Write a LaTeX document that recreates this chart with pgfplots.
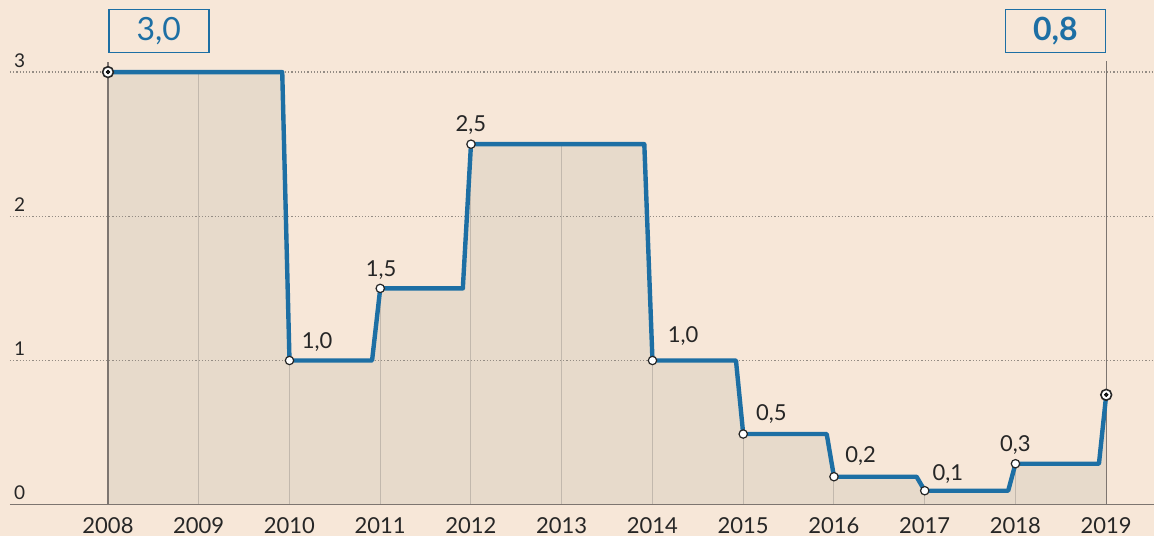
\documentclass[border=0pt]{standalone}
\usepackage{pgfplots}
\pgfplotsset{compat=1.18}
\usepackage{fontspec}
\setmainfont{Lato}
\definecolor{bg}{HTML}{F7E7D8}
\definecolor{area}{HTML}{E7DACB}
\definecolor{ftblue}{HTML}{1D6FA4}
\definecolor{gridc}{HTML}{C2B8AD}
\definecolor{axisgray}{HTML}{7D7570}
\definecolor{dotc}{HTML}{948C84}
\begin{document}
\begin{tikzpicture}
\fill[bg] (-5pt,-15.5pt) rectangle (572.5pt,252.5pt);
\begin{axis}[
  at={(0,0)}, anchor=south west,
  scale only axis, width=572.5pt, height=252.5pt,
  xmin=2006.92, xmax=2019.53, ymin=0, ymax=3.5,
  clip=false,
  axis x line*=bottom, axis y line=none,
  x axis line style={draw=axisgray, line width=0.7pt, -},
  xtick={2008,2009,2010,2011,2012,2013,2014,2015,2016,2017,2018,2019},
  xticklabels={2008,2009,2010,2011,2012,2013,2014,2015,2016,2017,2018,2019},
  major tick length=0pt,
  xticklabel style={font=\fontsize{11}{13}\selectfont, text=black!85, yshift=-3pt},
]
% area under the rate
\addplot[fill=area, draw=none] coordinates {
  (2008,3) (2009.92,3) (2010,1) (2010.91,1) (2011,1.5) (2011.91,1.5)
  (2012,2.5) (2013.91,2.5) (2014,1) (2014.92,1) (2015,0.49) (2015.92,0.49)
  (2016,0.194) (2016.91,0.194) (2017,0.097) (2017.92,0.097) (2018,0.284)
  (2018.92,0.284) (2019,0.762)} \closedcycle;
% year lines inside the area
\addplot[ycomb, draw=gridc, line width=0.5pt] coordinates {
  (2009,3) (2010,1) (2011,1.5) (2012,2.5) (2013,2.5) (2014,1)
  (2015,0.49) (2016,0.194) (2017,0.097) (2018,0.284)};
\addplot[ycomb, draw=axisgray, line width=0.6pt] coordinates {(2008,3.07) (2019,3.08)};
% dotted horizontal guides
\addplot[draw=dotc, densely dotted, line width=0.6pt, forget plot] coordinates {(2006.92,1) (2019.53,1)};
\addplot[draw=dotc, densely dotted, line width=0.6pt, forget plot] coordinates {(2006.92,2) (2019.53,2)};
\addplot[draw=dotc, densely dotted, line width=0.6pt, forget plot] coordinates {(2006.92,3) (2019.53,3)};
\draw[axisgray, line width=0.7pt] (axis cs:2006.95,0) -- (axis cs:2019.53,0);
% rate line
\addplot[draw=ftblue, line width=2.2pt, line join=round] coordinates {
  (2008,3) (2009.92,3) (2010,1) (2010.91,1) (2011,1.5) (2011.91,1.5)
  (2012,2.5) (2013.91,2.5) (2014,1) (2014.92,1) (2015,0.49) (2015.92,0.49)
  (2016,0.194) (2016.91,0.194) (2017,0.097) (2017.92,0.097) (2018,0.284)
  (2018.92,0.284) (2019,0.762)};
% markers
\addplot[only marks, mark=*, mark size=2.1pt, mark options={fill=white, draw=black!85, line width=0.6pt}] coordinates {
  (2010,1) (2011,1.5) (2012,2.5) (2014,1) (2015,0.49) (2016,0.194) (2017,0.097) (2018,0.284)};
\addplot[only marks, mark=*, mark size=2.7pt, mark options={fill=white, draw=black!85, line width=0.8pt}] coordinates {(2008,3) (2019,0.762)};
\addplot[only marks, mark=*, mark size=0.9pt, mark options={fill=black!85, draw=none}] coordinates {(2008,3) (2019,0.762)};
% value labels
\begin{scope}[every node/.style={font=\fontsize{11}{13}\selectfont, text=black!85, inner sep=0pt}]
\node[anchor=base west] at ([xshift=6pt, yshift=6pt]axis cs:2010,1) {1,0};
\node[anchor=base] at ([xshift=0.5pt, yshift=6pt]axis cs:2011,1.5) {1,5};
\node[anchor=base] at ([yshift=6.3pt]axis cs:2012,2.5) {2,5};
\node[anchor=base west] at ([xshift=7.5pt, yshift=8.8pt]axis cs:2014,1) {1,0};
\node[anchor=base west] at ([xshift=6.3pt, yshift=7pt]axis cs:2015,0.49) {0,5};
\node[anchor=base west] at ([xshift=5.5pt, yshift=7.3pt]axis cs:2016,0.194) {0,2};
\node[anchor=base west] at ([xshift=3.8pt, yshift=5pt]axis cs:2017,0.097) {0,1};
\node[anchor=base] at ([yshift=6.2pt]axis cs:2018,0.284) {0,3};
% y labels
\node[anchor=base west, font=\fontsize{9.5}{11}\selectfont] at ([yshift=2.5pt]axis cs:2006.96,3) {3};
\node[anchor=base west, font=\fontsize{9.5}{11}\selectfont] at ([yshift=2.5pt]axis cs:2006.96,2) {2};
\node[anchor=base west, font=\fontsize{9.5}{11}\selectfont] at ([yshift=2.5pt]axis cs:2006.96,1) {1};
\node[anchor=base west, font=\fontsize{9.5}{11}\selectfont] at ([yshift=2.5pt]axis cs:2006.96,0) {0};
\end{scope}
% highlighted values
\node[draw=ftblue, line width=0.8pt, text=ftblue, minimum width=50pt, minimum height=21.5pt, inner sep=0pt,
  anchor=south west, font=\fontsize{16}{16}\selectfont] at (axis cs:2008,3.13) {3,0};
\node[draw=ftblue, line width=0.8pt, text=ftblue, minimum width=50pt, minimum height=21.5pt, inner sep=0pt,
  anchor=south east, font=\fontsize{16}{16}\selectfont\bfseries] at (axis cs:2019,3.13) {0,8};
\end{axis}
\end{tikzpicture}
\end{document}
